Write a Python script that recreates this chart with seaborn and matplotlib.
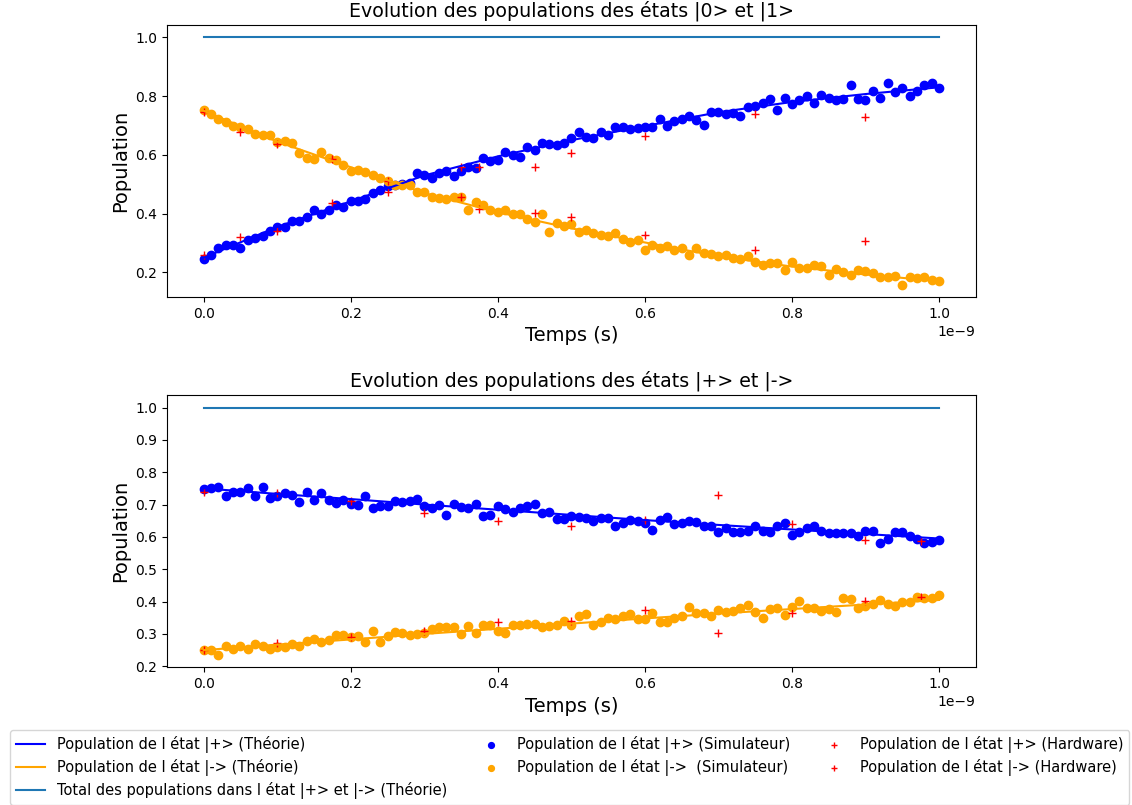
import numpy as np
import matplotlib
matplotlib.use("Agg")
import matplotlib.pyplot as plt
import seaborn as sns

# Temps (en s) : simulateur sur 101 points, théorie sur 11 points
temps_sim = np.linspace(0, 1e-9, 101)
temps_theo = np.linspace(0, 1e-9, 11)

# ---------- états |0> et |1> ----------
theo_0 = [0.25, 0.355, 0.442, 0.53, 0.595, 0.65, 0.698, 0.745, 0.78, 0.807, 0.83]
theo_1 = [0.75, 0.645, 0.558, 0.47, 0.405, 0.35, 0.302, 0.255, 0.22, 0.193, 0.17]

sim_0 = [0.246, 0.258, 0.283, 0.294, 0.294, 0.284, 0.310, 0.318, 0.323, 0.342,
         0.356, 0.355, 0.375, 0.376, 0.388, 0.411, 0.399, 0.412, 0.429, 0.424,
         0.442, 0.444, 0.451, 0.471, 0.479, 0.495, 0.497, 0.501, 0.505, 0.537,
         0.532, 0.522, 0.537, 0.546, 0.528, 0.546, 0.560, 0.555, 0.589, 0.579,
         0.582, 0.609, 0.601, 0.594, 0.628, 0.615, 0.640, 0.636, 0.633, 0.642,
         0.658, 0.679, 0.661, 0.656, 0.677, 0.669, 0.694, 0.694, 0.687, 0.690,
         0.694, 0.696, 0.721, 0.698, 0.716, 0.723, 0.733, 0.719, 0.702, 0.745,
         0.745, 0.739, 0.744, 0.734, 0.762, 0.765, 0.775, 0.789, 0.753, 0.795,
         0.774, 0.786, 0.801, 0.775, 0.805, 0.795, 0.786, 0.789, 0.838, 0.790,
         0.786, 0.817, 0.795, 0.844, 0.815, 0.826, 0.801, 0.817, 0.837, 0.846,
         0.826]
sim_1 = [0.753, 0.740, 0.721, 0.711, 0.698, 0.696, 0.687, 0.671, 0.667, 0.669,
         0.643, 0.646, 0.642, 0.608, 0.591, 0.585, 0.610, 0.591, 0.583, 0.564,
         0.546, 0.548, 0.541, 0.531, 0.521, 0.511, 0.498, 0.496, 0.496, 0.473,
         0.473, 0.457, 0.454, 0.450, 0.457, 0.458, 0.414, 0.438, 0.429, 0.414,
         0.405, 0.411, 0.399, 0.399, 0.383, 0.373, 0.400, 0.338, 0.369, 0.358,
         0.366, 0.337, 0.344, 0.334, 0.329, 0.323, 0.334, 0.314, 0.304, 0.310,
         0.278, 0.292, 0.283, 0.289, 0.275, 0.284, 0.261, 0.283, 0.267, 0.264,
         0.255, 0.258, 0.249, 0.246, 0.255, 0.235, 0.226, 0.233, 0.233, 0.209,
         0.237, 0.216, 0.215, 0.226, 0.221, 0.191, 0.210, 0.202, 0.192, 0.208,
         0.205, 0.199, 0.184, 0.185, 0.188, 0.158, 0.186, 0.181, 0.184, 0.174,
         0.170]

temps_hw_01 = np.array([0, 0.05, 0.1, 0.175, 0.25, 0.35, 0.375, 0.45, 0.5, 0.6, 0.75, 0.9]) * 1e-9
hw_0 = [0.260, 0.321, 0.342, 0.435, 0.475, 0.560, 0.560, 0.558, 0.606, 0.664, 0.738, 0.729]
hw_1 = [0.745, 0.679, 0.637, 0.585, 0.511, 0.457, 0.417, 0.402, 0.390, 0.329, 0.276, 0.308]

# ---------- états |+> et |-> ----------
theo_plus = [0.75, 0.733, 0.717, 0.700, 0.684, 0.668, 0.652, 0.637, 0.623, 0.609, 0.595]
theo_moins = [0.25, 0.267, 0.283, 0.300, 0.316, 0.332, 0.348, 0.363, 0.377, 0.391, 0.405]

sim_plus = [0.748, 0.750, 0.755, 0.727, 0.739, 0.739, 0.750, 0.728, 0.755, 0.719,
            0.726, 0.737, 0.731, 0.708, 0.739, 0.714, 0.737, 0.714, 0.706, 0.714,
            0.701, 0.700, 0.725, 0.688, 0.696, 0.695, 0.712, 0.709, 0.712, 0.717,
            0.695, 0.688, 0.698, 0.667, 0.701, 0.693, 0.688, 0.703, 0.664, 0.669,
            0.697, 0.685, 0.676, 0.688, 0.696, 0.703, 0.675, 0.677, 0.654, 0.654,
            0.666, 0.663, 0.657, 0.650, 0.657, 0.657, 0.634, 0.642, 0.652, 0.649,
            0.644, 0.621, 0.652, 0.660, 0.639, 0.642, 0.649, 0.647, 0.634, 0.634,
            0.616, 0.629, 0.614, 0.614, 0.618, 0.634, 0.619, 0.616, 0.633, 0.642,
            0.606, 0.616, 0.629, 0.633, 0.619, 0.611, 0.611, 0.613, 0.613, 0.604,
            0.619, 0.619, 0.582, 0.593, 0.616, 0.616, 0.602, 0.592, 0.580, 0.585,
            0.590]
sim_moins = [0.250, 0.250, 0.235, 0.264, 0.253, 0.264, 0.253, 0.269, 0.264, 0.255,
             0.261, 0.259, 0.269, 0.264, 0.279, 0.285, 0.276, 0.281, 0.297, 0.297,
             0.290, 0.293, 0.276, 0.310, 0.276, 0.293, 0.305, 0.302, 0.297, 0.299,
             0.302, 0.315, 0.322, 0.320, 0.322, 0.300, 0.324, 0.304, 0.327, 0.327,
             0.310, 0.304, 0.327, 0.327, 0.330, 0.330, 0.322, 0.324, 0.327, 0.340,
             0.327, 0.357, 0.361, 0.327, 0.338, 0.348, 0.347, 0.355, 0.361, 0.345,
             0.345, 0.364, 0.337, 0.337, 0.348, 0.355, 0.383, 0.364, 0.364, 0.357,
             0.374, 0.369, 0.372, 0.379, 0.388, 0.367, 0.350, 0.377, 0.379, 0.360,
             0.384, 0.402, 0.379, 0.379, 0.372, 0.378, 0.369, 0.410, 0.408, 0.379,
             0.387, 0.394, 0.404, 0.394, 0.387, 0.398, 0.400, 0.415, 0.410, 0.410,
             0.420]

temps_hw_pm = np.array([0, 0.1, 0.2, 0.3, 0.4, 0.5, 0.6, 0.7, 0.8, 0.9, 0.975]) * 1e-9
hw_plus = [0.738, 0.736, 0.711, 0.673, 0.650, 0.635, 0.651, 0.730, 0.640, 0.590, 0.588]
hw_moins = [0.250, 0.273, 0.290, 0.310, 0.338, 0.341, 0.374, 0.303, 0.366, 0.401, 0.413]

total_theo = [1.0] * len(temps_theo)


def trace(ax, titre, th_a, th_b, si_a, si_b, t_hw, hw_a, hw_b, avec_labels):
    lab = (lambda s: s) if avec_labels else (lambda s: None)
    sns.lineplot(x=temps_theo, y=th_a, color='blue', ax=ax, label=lab("Population de l état |+> (Théorie)"))
    sns.lineplot(x=temps_theo, y=th_b, color='orange', ax=ax, label=lab("Population de l état |-> (Théorie)"))
    sns.lineplot(x=temps_theo, y=total_theo, color='#1f77b4', ax=ax,
                 label=lab("Total des populations dans l état |+> et |-> (Théorie)"))
    # points du simulateur
    sns.scatterplot(x=temps_sim, y=si_a, color='blue', edgecolor='blue', s=36, linewidth=1, ax=ax,
                    label=lab("Population de l état |+> (Simulateur)"))
    sns.scatterplot(x=temps_sim, y=si_b, color='orange', edgecolor='orange', s=36, linewidth=1, ax=ax,
                    label=lab("Population de l état |->  (Simulateur)"))
    # points mesurés sur le hardware
    sns.scatterplot(x=t_hw, y=hw_a, color='red', marker='+', s=30, linewidth=1, ax=ax,
                    label=lab("Population de l état |+> (Hardware)"))
    sns.scatterplot(x=t_hw, y=hw_b, color='red', marker='+', s=30, linewidth=1, ax=ax,
                    label=lab("Population de l état |-> (Hardware)"))
    if ax.get_legend() is not None:
        ax.get_legend().remove()
    ax.set_title(titre, fontsize=13.7)
    ax.set_xlabel("Temps (s)", fontsize=14)
    ax.set_ylabel("Population", fontsize=14)


fig, (ax1, ax2) = plt.subplots(2, 1, figsize=(11.32, 8.05), dpi=100)
fig.subplots_adjust(left=0.1475, right=0.862, top=0.969, bottom=0.171, hspace=0.36)

trace(ax1, "Evolution des populations des états |0> et |1>",
      theo_0, theo_1, sim_0, sim_1, temps_hw_01, hw_0, hw_1, False)
trace(ax2, "Evolution des populations des états |+> et |->",
      theo_plus, theo_moins, sim_plus, sim_moins, temps_hw_pm, hw_plus, hw_moins, True)

# légende commune sous les deux graphes
handles, labels = ax2.get_legend_handles_labels()
fig.legend(handles, labels, loc='upper left', bbox_to_anchor=(10 / 1132, 1 - 730 / 805),
           borderaxespad=0, ncol=3, fontsize=10.5, markerscale=0.7, labelspacing=0.42)

fig.savefig("out.png", dpi=100)
